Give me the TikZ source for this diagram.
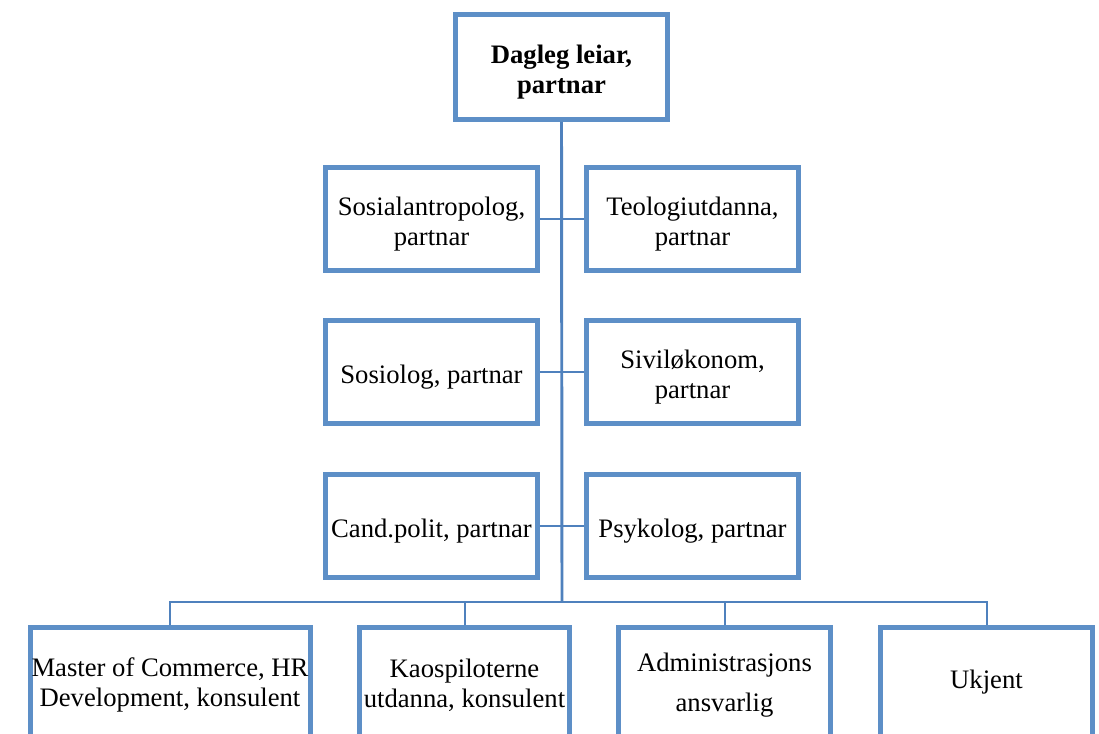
\documentclass[tikz,border=0pt]{standalone}
\usepackage{fontspec}
\setmainfont{Liberation Serif}
\usepackage{tikz}
\usetikzlibrary{positioning,calc}
\definecolor{boksblaa}{RGB}{93,143,199}
\definecolor{linjeblaa}{RGB}{79,129,189}
\newcommand{\lyft}{\rule{0pt}{22pt}}

\begin{document}
\begin{tikzpicture}[
      x=0.75pt, y=-0.75pt,
      boks/.style={draw=boksblaa, line width=3.75pt, fill=white,
                   minimum width=159pt, minimum height=77pt,
                   align=center, inner sep=1pt,
                   font=\fontsize{20}{22.5}\selectfont},
      leiar/.style={boks, minimum height=78.5pt,
                    font=\fontsize{20}{22.5}\selectfont\bfseries},
      botn/.style={boks, minimum height=86pt},
      stamme/.style={draw=linjeblaa, line width=2.2pt},
      grein/.style={draw=linjeblaa, line width=1.5pt}
  ]
      \clip (0,0) rectangle (1099,733);
      \fill[white] (0,0) rectangle (1099,733);

      % Leiar
      \node[leiar] (dl) at (561.5,67) {\lyft Dagleg leiar,\\partnar};

      % Partnarar i tre rader
      \node[boks] (sa) at (431.5,219) {\lyft Sosialantropolog,\\partnar};
      \node[boks] (te) at (692.5,219) {\lyft Teologiutdanna,\\partnar};
      \node[boks] (so) at (431.5,372) {\lyft Sosiolog, partnar};
      \node[boks] (si) at (692.5,372) {\lyft Siviløkonom,\\partnar};
      \node[boks] (cp) at (431.5,526) {\lyft Cand.polit, partnar};
      \node[boks] (ps) at (692.5,526) {\lyft Psykolog, partnar};

      % Nedste rad (skoren av nedst)
      \node[botn, minimum width=210pt] (mc) at (170,685) {Master of Commerce, HR\\Development, konsulent};
      \node[botn, minimum width=157.5pt] (ka) at (464.5,685) {Kaospiloterne\\utdanna, konsulent};
      \node[botn] (ad) at (724.5,685) {Administrasjons\\[8pt]ansvarlig};
      \node[botn, text depth=9pt] (uk) at (986.5,685) {Ukjent};

      \coordinate (skil) at (562,602);

      % Linjer
      \draw[stamme] (dl.south) -- (skil);
      \draw[grein] (sa.east) -- (te.west);
      \draw[grein] (so.east) -- (si.west);
      \draw[grein] (cp.east) -- (ps.west);
      \draw[grein] (mc.north) |- (skil) -| (uk.north);
      \draw[grein] (ka.north) -- (ka.north |- skil);
      \draw[grein] (ad.north) -- (ad.north |- skil);
  \end{tikzpicture}
\end{document}
